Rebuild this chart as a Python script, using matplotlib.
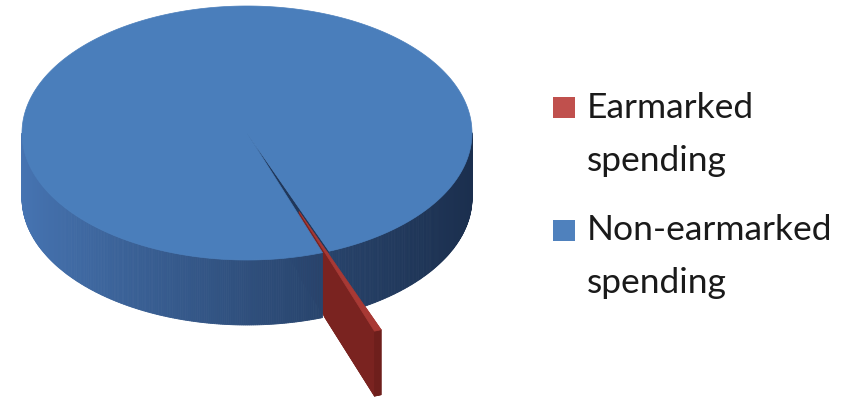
import numpy as np
import matplotlib.pyplot as plt
from matplotlib.patches import Polygon, Rectangle
from matplotlib.colors import to_rgb

labels = ['Earmarked spending', 'Non-earmarked spending']
values = [0.5, 99.5]
legend_colors = ['#c0504d', '#4f81bd']

# geometry of the 3d pie, in pixels
cx, cy = 247, 133
rx, ry = 225, 127
depth = 65
explode = 0.66
mid_small = -69.5  # direction the small slice points, degrees

fig = plt.figure(figsize=(8.46, 4.0), dpi=100)
ax = fig.add_axes([0, 0, 1, 1])
ax.set_xlim(0, 846)
ax.set_ylim(400, 0)
ax.axis('off')


def scr(x, y, h=0.0):
    return (cx + rx * x, cy - ry * y + depth * h)


def e(t):
    r = np.radians(t)
    return np.array([np.cos(r), np.sin(r)])


def side_color(x):
    # horizontal gradient on the rim, lighter on the left
    left = np.array(to_rgb('#4674b2'))
    right = np.array(to_rgb('#1b2f4e'))
    f = np.clip((x - (cx - rx)) / (2 * rx), 0, 1) ** 0.9
    return tuple(left + (right - left) * f)


def poly(pts, **kw):
    ax.add_patch(Polygon(pts, closed=True, **kw))


fracs = np.array(values) / sum(values) * 360
start = mid_small - fracs[0] / 2
th1, th2 = start, start + fracs[0]          # small slice
b1, b2 = th2, start + 360                   # big slice
off = explode * e(mid_small)

# big slice: visible cut face in the gap
c = np.zeros(2)
p = e(b1)
poly([scr(*c), scr(*p), scr(*p, 1), scr(*c, 1)], fc='#20375a', ec='#20375a', lw=0.5)


def draw_small(r_in=None):
    ts = np.linspace(th1, th2, 20)
    # inner radius for each angle (0 = full slice)
    if r_in is None:
        rin = np.zeros_like(ts)
    else:
        rin = np.array([r_in(t) for t in ts])
    # left cut face
    a = off + rin[0] * e(th1)
    b = off + e(th1)
    poly([scr(*a), scr(*b), scr(*b, 1), scr(*a, 1)], fc='#7a2320', ec='#7a2320', lw=0.5)
    # outer rim
    outer = [off + e(t) for t in ts]
    poly([scr(*q) for q in outer] + [scr(*q, 1) for q in outer[::-1]],
         fc='#6e1f1c', ec='#6e1f1c', lw=0.5)
    # top
    inner = [off + r * e(t) for r, t in zip(rin, ts)]
    poly([scr(*q) for q in outer] + [scr(*q) for q in inner[::-1]],
         fc='#a83934', ec='#a83934', lw=0.5)


draw_small()

# big slice: front rim with gradient
ts = np.linspace(b1, b2, 720)
for t0, t1 in zip(ts[:-1], ts[1:]):
    if np.sin(np.radians((t0 + t1) / 2)) > 0:
        continue
    p0, p1 = e(t0), e(t1)
    col = side_color(scr(*((p0 + p1) / 2))[0])
    poly([scr(*p0), scr(*p1), scr(*p1, 1), scr(*p0, 1)], fc=col, ec=col, lw=0.6)

# big slice: top face
top = [scr(0, 0)] + [scr(*e(t)) for t in ts]
poly(top, fc='#4a7ebb', ec='#4a7ebb', lw=0.5)


def r_cyl(t):
    d = off @ e(t)
    return -d + np.sqrt(d * d - off @ off + 1)


# the part of the small slice standing outside the big one sits in front of it
draw_small(r_cyl)

# legend
rows = [(97, [118, 171]), (220, [240, 293])]
for lab, col, (sq_y, bases) in zip(labels, legend_colors, rows):
    ax.add_patch(Rectangle((553, sq_y), 22, 21, fc=col, ec='none'))
    for line, yb in zip(lab.split(' '), bases):
        ax.text(587, yb, line, fontsize=25.5, family='Lato', color='#1a1a1a',
                ha='left', va='baseline')

fig.savefig('out.png', dpi=100)
